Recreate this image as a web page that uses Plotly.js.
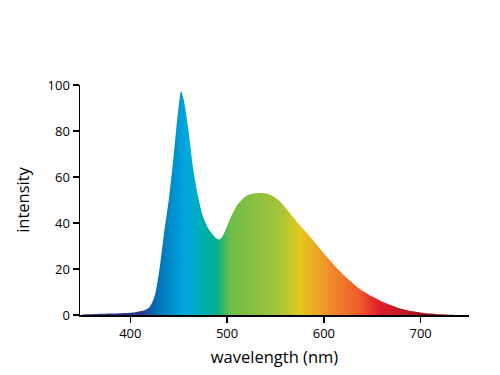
<!DOCTYPE html>
<html>
<head>
<meta charset="utf-8">
<script src="https://cdn.plot.ly/plotly-3.0.1.min.js"></script>
<style>html,body{margin:0;padding:0;background:#fff;}#chart{width:500px;height:375px;}</style>
</head>
<body>
<div id="chart"></div>
<script>
var wavelength = [350,355,360,365,370,375,380,385,390,395,400,405,410,415,420,425,430,435,440,445,450,452.5,455,460,465,470,475,480,485,490,492.5,495,500,505,510,515,520,525,530,535,540,545,550,555,560,565,570,575,580,585,590,595,600,605,610,615,620,625,630,635,640,645,650,655,660,665,670,675,680,685,690,695,700,705,710,715,720,725,730,735,740];
var intensity = [0.2,0.3,0.35,0.4,0.5,0.55,0.6,0.7,0.8,0.9,1.0,1.2,1.6,2.2,3.5,8,19.6,36,51,70,91,97.3,94,80.5,63.5,51.5,43,38,35,33,32.9,34,38.6,43.5,47.5,50,51.8,52.6,52.9,53,52.8,52.2,51.0,49.2,46.8,44.2,41.6,39.1,36.7,34.3,31.9,29.4,26.8,24.3,22,19.8,17.6,15.6,13.8,12,10.5,9.2,8,7,5.9,5,4.2,3.4,2.7,2.2,1.7,1.4,1.1,0.8,0.6,0.45,0.3,0.2,0.1,0.05,0];
var xTicks = [400,500,600,700];
var yTicks = [0,20,40,60,80,100];

var xMin = 348, xMax = 750;
var stopNm = [348,410,428,458,489,503,554,575,609,637,657,699,750];
var stopColors = ['#2a3a8a','#2b3990','#0072b8','#00a9e0','#00b08c','#6cbd45','#a5c43a','#e3c81c','#f0882a','#ee5a2a','#e01e2a','#a5141e','#8b0e14'];
var colorscale = stopNm.map(function(v,i){return [(v-xMin)/(xMax-xMin), stopColors[i]];});

var trace = {
  x: wavelength, y: intensity, type:'scatter', mode:'lines',
  line:{width:0, shape:'spline', smoothing:0.8}, fill:'tozeroy',
  fillgradient:{type:'horizontal', colorscale: colorscale, start:xMin, stop:xMax},
  hoverinfo:'skip'
};
var fontFam = '"Open Sans", "DejaVu Sans", sans-serif';
var layout = {
  width:500, height:375,
  margin:{l:80, r:31, t:85, b:60},
  paper_bgcolor:'#fff', plot_bgcolor:'#fff',
  showlegend:false,
  font:{family:fontFam, color:'#000', size:13},
  xaxis:{range:[xMin,xMax], tickvals:xTicks, ticktext:xTicks.map(String), ticks:'outside', ticklen:6, tickwidth:1.3, tickcolor:'#000',
    showline:true, linecolor:'#000', linewidth:1.5, showgrid:false, zeroline:false,
    title:{text:'wavelength (nm)', font:{size:16.5, family:fontFam, color:'#000'}, standoff:10}, tickfont:{size:13, color:'#000'}},
  yaxis:{range:[0,100], tickvals:yTicks, ticktext:yTicks.map(String), ticks:'outside', ticklen:6, tickwidth:1.3, tickcolor:'#000',
    showline:true, linecolor:'#000', linewidth:1.5, showgrid:false, zeroline:false,
    title:{text:'intensity', font:{size:16.5, family:fontFam, color:'#000'}, standoff:14}, tickfont:{size:13, color:'#000'}}
};
Plotly.newPlot('chart',[trace],layout,{staticPlot:true, displayModeBar:false});
</script>
</body>
</html>
